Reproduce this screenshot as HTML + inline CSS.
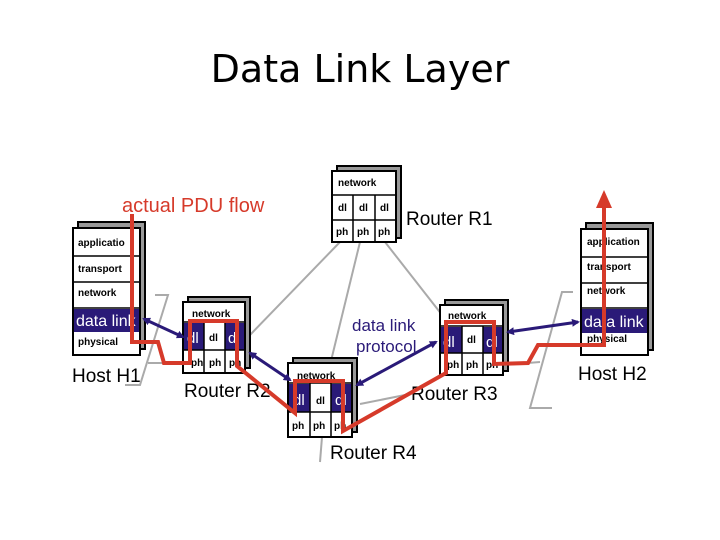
<!DOCTYPE html>
<html><head><style>
html,body{margin:0;padding:0;background:#fff;}
svg{display:block;font-family:"Liberation Sans",Arial,sans-serif;}
.b{font-weight:bold;font-size:10px;fill:#000;}
.L{font-size:19px;fill:#000;}
</style></head><body>
<svg width="720" height="540" viewBox="0 0 720 540">
<text x="360" y="82" text-anchor="middle" font-size="38" fill="#000" font-family="'DejaVu Sans','Liberation Sans',sans-serif">Data Link Layer</text>

<g stroke="#aaa" stroke-width="2" fill="none">
<line x1="340" y1="242" x2="250" y2="335"/>
<line x1="360" y1="242" x2="330" y2="365"/>
<line x1="385" y1="242" x2="446" y2="320"/>
<line x1="322" y1="437" x2="320" y2="462"/>
<polyline points="155,295 168,295 140,385 125,385"/>
<line x1="148" y1="363" x2="183" y2="363"/>
<line x1="360" y1="404" x2="405" y2="395"/>
<polyline points="573,292 562,292 530,408 552,408"/>
<line x1="503" y1="365" x2="540" y2="362"/>
</g>

<!-- Host H1 -->
<rect x="78" y="222" width="67" height="127" fill="#999" stroke="#000" stroke-width="2"/>
<rect x="73" y="228" width="67" height="127" fill="#fff" stroke="#000" stroke-width="2"/>
<rect x="74" y="309" width="65" height="23" fill="#2a1a78"/>
<g stroke="#000" stroke-width="1.5"><line x1="73" y1="256" x2="140" y2="256"/><line x1="73" y1="282" x2="140" y2="282"/><line x1="73" y1="308" x2="140" y2="308"/></g>
<text class="b" x="78" y="246">applicatio</text>
<text class="b" x="78" y="272">transport</text>
<text class="b" x="78" y="296">network</text>
<text x="76" y="326" font-size="16" fill="#fff">data link</text>
<text class="b" x="78" y="345">physical</text>
<text class="L" x="72" y="382">Host H1</text>

<!-- R1 -->
<g>
<rect x="337" y="166" width="64" height="72" fill="#999" stroke="#000" stroke-width="2"/>
<rect x="332" y="171" width="64" height="71" fill="#fff" stroke="#000" stroke-width="2"/>
<g stroke="#000" stroke-width="1.5"><line x1="332" y1="195" x2="396" y2="195"/><line x1="332" y1="220" x2="396" y2="220"/><line x1="353" y1="195" x2="353" y2="242"/><line x1="375" y1="195" x2="375" y2="242"/></g>
<text class="b" x="338" y="186" font-size="9">network</text>
<text class="b" x="338" y="211">dl</text><text class="b" x="359" y="211">dl</text><text class="b" x="380" y="211">dl</text>
<text class="b" x="336" y="235">ph</text><text class="b" x="357" y="235">ph</text><text class="b" x="378" y="235">ph</text>
<text class="L" x="406" y="225">Router R1</text>
</g>

<!-- R2 -->
<g>
<rect x="188" y="297" width="62" height="71" fill="#999" stroke="#000" stroke-width="2"/>
<rect x="183" y="302" width="62" height="71" fill="#fff" stroke="#000" stroke-width="2"/>
<rect x="184" y="323" width="20" height="27" fill="#2a1a78"/><rect x="225" y="323" width="19" height="27" fill="#2a1a78"/>
<g stroke="#000" stroke-width="1.5"><line x1="183" y1="322" x2="245" y2="322"/><line x1="183" y1="350" x2="245" y2="350"/><line x1="204" y1="322" x2="204" y2="373"/><line x1="225" y1="322" x2="225" y2="373"/></g>
<text class="b" x="192" y="317" font-size="9">network</text>
<text x="187" y="343" font-size="15" fill="#fff">dl</text><text class="b" x="209" y="341">dl</text><text x="228" y="343" font-size="15" fill="#fff">dl</text>
<text class="b" x="191" y="366" font-size="9">ph</text><text class="b" x="209" y="366" font-size="9">ph</text><text class="b" x="229" y="366" font-size="9">ph</text>
<text class="L" x="184" y="397">Router R2</text>
</g>

<!-- R4 -->
<g>
<rect x="293" y="358" width="64" height="74" fill="#999" stroke="#000" stroke-width="2"/>
<rect x="288" y="363" width="64" height="74" fill="#fff" stroke="#000" stroke-width="2"/>
<rect x="289" y="384" width="21" height="28" fill="#2a1a78"/><rect x="331" y="384" width="20" height="28" fill="#2a1a78"/>
<g stroke="#000" stroke-width="1.5"><line x1="288" y1="383" x2="352" y2="383"/><line x1="288" y1="412" x2="352" y2="412"/><line x1="310" y1="383" x2="310" y2="437"/><line x1="331" y1="383" x2="331" y2="437"/></g>
<text class="b" x="297" y="379" font-size="9">network</text>
<text x="293" y="405" font-size="15" fill="#fff">dl</text><text class="b" x="316" y="404">dl</text><text x="335" y="405" font-size="15" fill="#fff">dl</text>
<text class="b" x="292" y="429" font-size="9">ph</text><text class="b" x="313" y="429" font-size="9">ph</text><text class="b" x="334" y="429" font-size="9">ph</text>
<text class="L" x="330" y="459">Router R4</text>
</g>

<!-- R3 -->
<g>
<rect x="445" y="300" width="63" height="71" fill="#999" stroke="#000" stroke-width="2"/>
<rect x="440" y="305" width="63" height="70" fill="#fff" stroke="#000" stroke-width="2"/>
<rect x="441" y="327" width="21" height="26" fill="#2a1a78"/><rect x="483" y="327" width="19" height="26" fill="#2a1a78"/>
<g stroke="#000" stroke-width="1.5"><line x1="440" y1="326" x2="503" y2="326"/><line x1="440" y1="353" x2="503" y2="353"/><line x1="462" y1="326" x2="462" y2="375"/><line x1="483" y1="326" x2="483" y2="375"/></g>
<text class="b" x="448" y="319" font-size="9">network</text>
<text x="443" y="347" font-size="15" fill="#fff">dl</text><text class="b" x="467" y="343">dl</text><text x="486" y="347" font-size="15" fill="#fff">dl</text>
<text class="b" x="447" y="368" font-size="9">ph</text><text class="b" x="466" y="368" font-size="9">ph</text><text class="b" x="486" y="368" font-size="9">ph</text>
<text class="L" x="411" y="400">Router R3</text>
</g>

<!-- Host H2 -->
<rect x="586" y="223" width="67" height="127" fill="#999" stroke="#000" stroke-width="2"/>
<rect x="581" y="229" width="67" height="126" fill="#fff" stroke="#000" stroke-width="2"/>
<rect x="582" y="309" width="65" height="24" fill="#2a1a78"/>
<g stroke="#000" stroke-width="1.5"><line x1="581" y1="257" x2="648" y2="257"/><line x1="581" y1="283" x2="648" y2="283"/><line x1="581" y1="308" x2="648" y2="308"/></g>
<text class="b" x="587" y="245">application</text>
<text class="b" x="587" y="270">transport</text>
<text class="b" x="587" y="294">network</text>
<text x="584" y="327" font-size="16" fill="#fff">data link</text>
<text class="b" x="587" y="342">physical</text>
<text class="L" x="578" y="380">Host H2</text>

<defs><marker id="a" markerWidth="8" markerHeight="8" refX="6" refY="4" orient="auto-start-reverse" markerUnits="userSpaceOnUse" viewBox="0 0 8 8"><path d="M0,0 L8,4 L0,8 z" fill="#2a1a78"/></marker></defs>
<g stroke="#2a1a78" stroke-width="3" marker-start="url(#a)" marker-end="url(#a)">
<line x1="144" y1="319" x2="183" y2="337"/>
<line x1="250" y1="353" x2="290" y2="380"/>
<line x1="357" y1="385" x2="436" y2="342"/>
<line x1="508" y1="332" x2="578" y2="322"/>
</g>
<text x="352" y="331" font-size="17" fill="#2a1a78">data link</text>
<text x="356" y="352" font-size="17" fill="#2a1a78">protocol</text>

<text x="122" y="212" font-size="20" fill="#d63a2a">actual PDU flow</text>
<polyline fill="none" stroke="#d63a2a" stroke-width="4" stroke-linejoin="miter"
points="132,214 132,342 158,342 164,363 190,363 190,321 237,321 237,366 295,413 295,381 343,381 343,431 446,373 446,322 494,322 494,364 528,363 538,345 604,345 604,205"/>
<path d="M596,208 L604,190 L612,208 z" fill="#d63a2a"/>
</svg>
</body></html>
